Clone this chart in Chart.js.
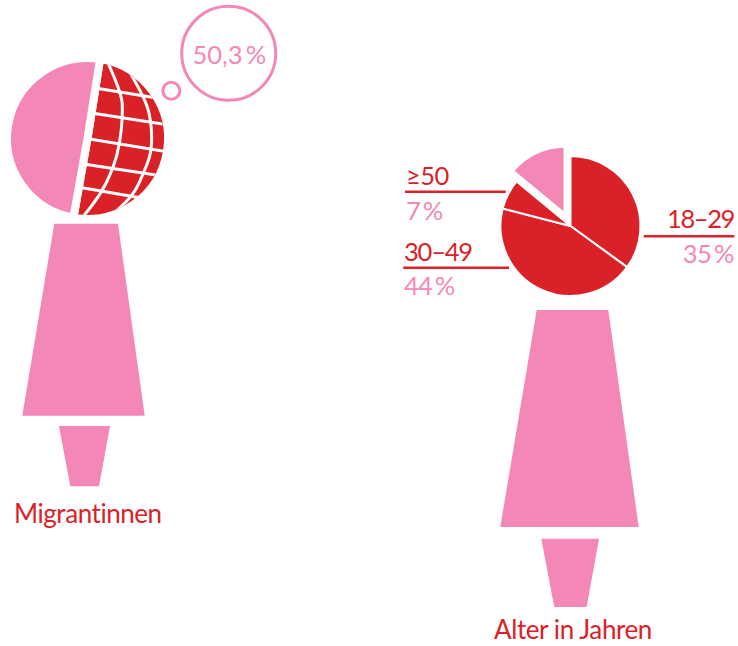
<!DOCTYPE html>
<html lang="de">
<head>
<meta charset="utf-8">
<title>Migrantinnen</title>
<script src="https://cdn.jsdelivr.net/npm/chart.js@4"></script>
<style>
  html, body { margin: 0; background: #fff; }
  #page { position: relative; width: 738px; height: 646px; overflow: hidden; }
  #shapes { position: absolute; left: 0; top: 0; }
  #shapes text { font-family: "Lato", sans-serif; font-weight: 400; }
  .box { position: absolute; }
  #migrantBox { left: 0; top: 50.5px; width: 175px; height: 175px; }
  #ageBox { left: 480px; top: 136px; width: 181px; height: 180px; }
</style>
</head>
<body>
<div id="page">
  <svg id="shapes" width="738" height="646" xmlns="http://www.w3.org/2000/svg">
    <g fill="#f387b7">
      <polygon points="54.3,223.7 118,223.7 144.7,415.7 22.3,415.7"/>
      <polygon points="59,426 110,426 99,486.3 70.3,486.3"/>
      <polygon points="536.7,310 608.3,310 638.7,527 500.3,527"/>
      <polygon points="541.3,538.7 599,538.7 586.7,607 554.3,607"/>
    </g>
    <g fill="none" stroke="#f387b7" stroke-width="3">
      <circle cx="228.7" cy="53.3" r="47"/>
      <circle cx="171.3" cy="90.7" r="8.5"/>
    </g>
    <g stroke="#db2128" stroke-width="2.5">
      <line x1="405" y1="191.7" x2="505.7" y2="191.7"/>
      <line x1="403.3" y1="267.7" x2="509" y2="267.7"/>
      <line x1="643.7" y1="236.3" x2="734.3" y2="236.3"/>
    </g>
    <g id="labels"></g>
  </svg>
  <div class="box" id="migrantBox"><canvas id="migrantChart"></canvas></div>
  <div class="box" id="ageBox"><canvas id="ageChart"></canvas></div>
</div>
<script>
const migrantLabels = ["Migrantinnen", "andere"];
const migrantValues = [50.3, 49.7];

const ageLabels = ["18–29", "30–49", "≥50", "unter 18"];
const ageValues = [35, 44, 7, 14];

const red = "#db2128";
const pink = "#f387b7";

// globe grid, page coordinates
const latitudes = [
    [[95, 87.5], [160, 98]],
    [[90, 112.3], [170, 124.6]],
    [[85, 137.7], [170, 151.8]],
    [[80, 163], [165, 175.8]],
    [[75, 186], [150, 199]],
];
const meridians = [
    [[105, 56], [121.7, 91.7], [122.7, 115], [120, 142.3], [113.3, 168.3], [100, 195], [80, 220]],
    [[124, 62], [145, 96.7], [151.7, 123.3], [151.7, 151.7], [143.3, 173.3], [133.3, 195], [108, 218]],
];

const globePlugin = {
    id: "globe",
    afterDatasetsDraw(chart) {
        const arc = chart.getDatasetMeta(0).data[0];
        const ctx = chart.ctx;
        ctx.save();
        ctx.beginPath();
        ctx.moveTo(arc.x, arc.y);
        ctx.arc(arc.x, arc.y, arc.outerRadius - 4, arc.startAngle, arc.endAngle);
        ctx.closePath();
        ctx.clip();
        ctx.translate(0, -50.5);
        ctx.strokeStyle = "#fff";
        ctx.lineWidth = 3;
        latitudes.forEach(p => {
            ctx.beginPath();
            ctx.moveTo(p[0][0], p[0][1]);
            ctx.lineTo(p[1][0], p[1][1]);
            ctx.stroke();
        });
        meridians.forEach(p => {
            ctx.beginPath();
            ctx.moveTo(p[0][0], p[0][1]);
            for (let i = 1; i < p.length - 1; i++) {
                ctx.quadraticCurveTo(p[i][0], p[i][1], (p[i][0] + p[i + 1][0]) / 2, (p[i][1] + p[i + 1][1]) / 2);
            }
            ctx.lineTo(p[p.length - 1][0], p[p.length - 1][1]);
            ctx.stroke();
        });
        ctx.restore();
    }
};

// pull the last slice out of the pie, the offset option only moves it a quarter
const pullSlice = {
    id: "pullSlice",
    afterDatasetsUpdate(chart) {
        const arc = chart.getDatasetMeta(0).data[3];
        const mid = (arc.startAngle + arc.endAngle) / 2;
        arc.x += Math.cos(mid) * 14;
        arc.y += Math.sin(mid) * 14;
        arc.outerRadius -= 3.5;
    }
};

new Chart(document.getElementById("migrantChart"), {
    type: "pie",
    data: {
        labels: migrantLabels,
        datasets: [{
            data: migrantValues,
            backgroundColor: [red, pink],
            borderColor: "#fff",
            borderWidth: 8,
            radius: 80.5,
            rotation: 9,
        }]
    },
    options: {
        responsive: true,
        maintainAspectRatio: false,
        animation: false,
        plugins: { legend: { display: false }, tooltip: { enabled: false } },
    },
    plugins: [globePlugin],
});

new Chart(document.getElementById("ageChart"), {
    type: "pie",
    data: {
        labels: ageLabels,
        datasets: [{
            data: ageValues,
            backgroundColor: [red, red, red, pink],
            borderColor: "#fff",
            borderWidth: 2,
            radius: 70,
        }]
    },
    options: {
        responsive: true,
        maintainAspectRatio: false,
        animation: false,
        plugins: { legend: { display: false }, tooltip: { enabled: false } },
    },
    plugins: [pullSlice],
});

const labelGroup = document.getElementById("labels");

const addText = (str, x, y, size, color, spacing, anchor) => {
    const t = document.createElementNS("http://www.w3.org/2000/svg", "text");
    t.setAttribute("x", x);
    t.setAttribute("y", y);
    t.setAttribute("font-size", size);
    t.setAttribute("fill", color);
    t.setAttribute("letter-spacing", spacing);
    t.setAttribute("text-anchor", anchor || "start");
    t.textContent = str;
    labelGroup.appendChild(t);
};

addText("50,3\u2009%", 192.5, 63.5, 25.5, pink, 0);
addText(ageLabels[2], 406, 185, 25.5, red, -0.5);
addText(ageValues[2] + "\u2009%", 406, 220, 25.5, pink, -0.6);
addText(ageLabels[1], 404, 260.5, 25.5, red, -1.2);
addText(ageValues[1] + "\u2009%", 404, 295, 25.5, pink, -0.7);
addText(ageLabels[0], 734, 227.5, 25.5, red, -1.4, "end");
addText(ageValues[0] + "\u2009%", 734, 262.5, 25.5, pink, -0.5, "end");
addText(migrantLabels[0], 14, 523, 26, red, -0.45);
addText("Alter in Jahren", 494, 639, 26, red, -0.4);
</script>
</body>
</html>
